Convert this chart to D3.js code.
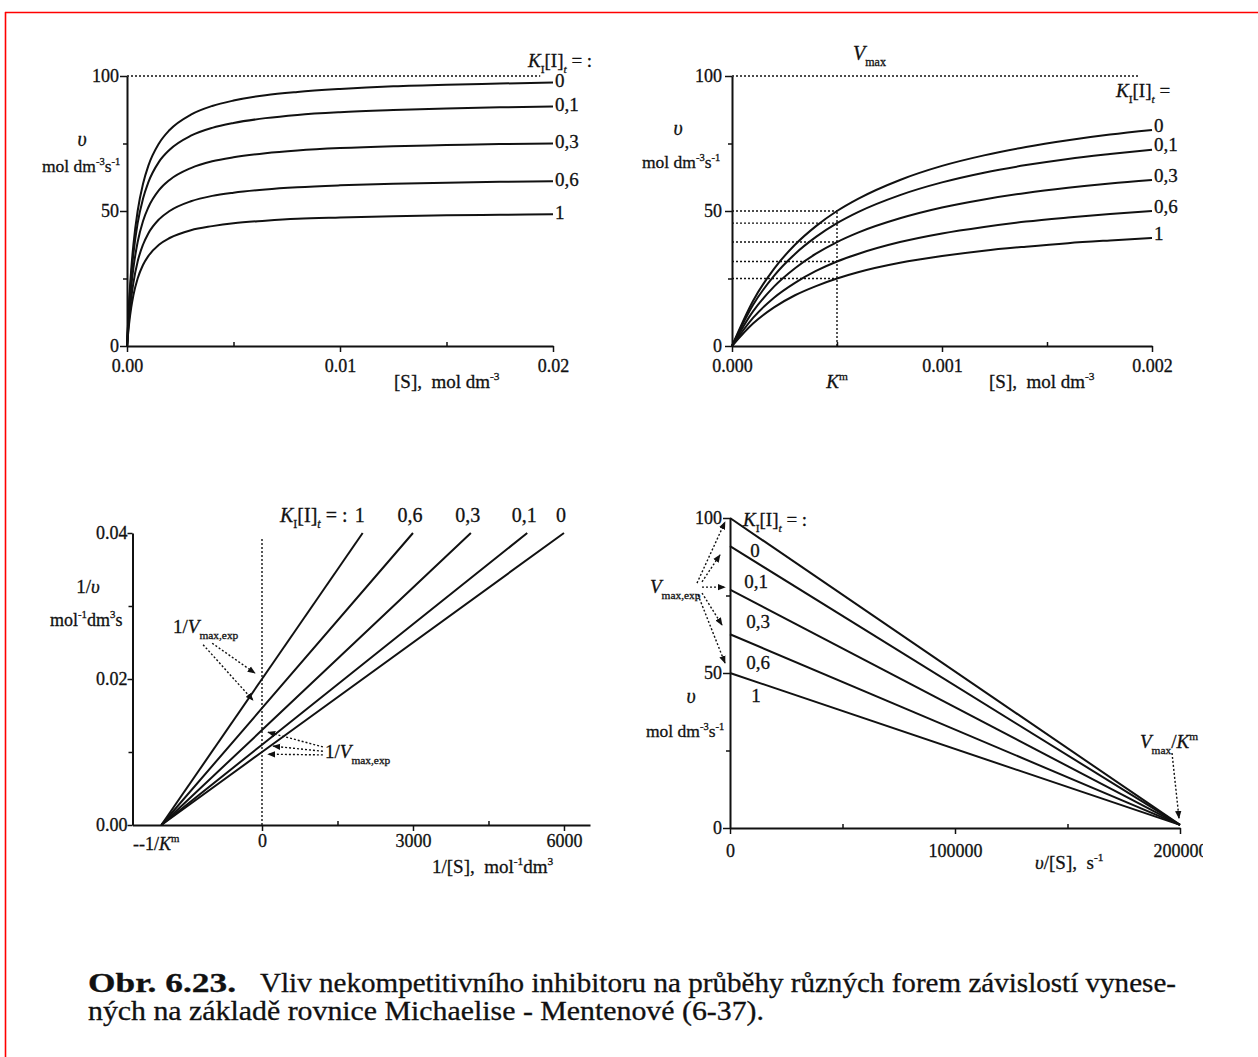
<!DOCTYPE html>
<html><head><meta charset="utf-8">
<script src="https://cdn.jsdelivr.net/npm/d3@7/dist/d3.min.js"></script>
<style>
html,body{margin:0;padding:0;background:#fff;}
svg{display:block;}
text{font-family:"Liberation Serif","Times New Roman",Times,serif;fill:#111;white-space:pre;stroke:#111;stroke-width:0.3px;}
</style></head><body>
<svg id="chart" width="1258" height="1057"></svg>
<script>
// ---------------- DATA ----------------
const inhibitorLabels = ["0", "0,1", "0,3", "0,6", "1"];

// Panel 1: v vs [S] (wide range)
const p1S    = [0, 0.0001, 0.0002, 0.0003, 0.0005, 0.00075, 0.001, 0.0015, 0.002, 0.003, 0.004, 0.005, 0.0065, 0.008, 0.01, 0.0125, 0.015, 0.0175, 0.02];
const p1V_0  = [0, 16.7, 28.6, 37.5, 50.0, 60.0, 66.7, 75.0, 80.0, 85.7, 88.9, 90.9, 92.9, 94.1, 95.2, 96.2, 96.8, 97.2, 97.6];
const p1V_01 = [0, 15.2, 26.0, 34.1, 45.5, 54.5, 60.6, 68.2, 72.7, 77.9, 80.8, 82.6, 84.4, 85.6, 86.6, 87.4, 88.0, 88.4, 88.7];
const p1V_03 = [0, 12.8, 22.0, 28.8, 38.5, 46.2, 51.3, 57.7, 61.5, 65.9, 68.4, 69.9, 71.4, 72.4, 73.3, 74.0, 74.4, 74.8, 75.0];
const p1V_06 = [0, 10.4, 17.9, 23.4, 31.3, 37.5, 41.7, 46.9, 50.0, 53.6, 55.6, 56.8, 58.0, 58.8, 59.5, 60.1, 60.5, 60.8, 61.0];
const p1V_1  = [0, 8.3, 14.3, 18.8, 25.0, 30.0, 33.3, 37.5, 40.0, 42.9, 44.4, 45.5, 46.4, 47.1, 47.6, 48.1, 48.4, 48.6, 48.8];
const p1YTicks = [0, 50, 100];
const p1YTickLabels = ["0", "50", "100"];
const p1YMinor = [25, 75];
const p1XTicks = [0, 0.01, 0.02];
const p1XTickLabels = ["0.00", "0.01", "0.02"];
const p1XMinor = [0.005, 0.015];
const p1Vmax = 100;

// Panel 2: v vs [S] (narrow range)
const p2S    = [0, 0.0001, 0.0002, 0.0003, 0.0004, 0.0005, 0.0006, 0.0008, 0.001, 0.0012, 0.0014, 0.0016, 0.0018, 0.002];
const p2V_0  = [0, 16.7, 28.6, 37.5, 44.4, 50.0, 54.5, 61.5, 66.7, 70.6, 73.7, 76.2, 78.3, 80.0];
const p2V_01 = [0, 15.2, 26.0, 34.1, 40.4, 45.5, 49.6, 55.9, 60.6, 64.2, 67.0, 69.3, 71.1, 72.7];
const p2V_03 = [0, 12.8, 22.0, 28.8, 34.2, 38.5, 42.0, 47.3, 51.3, 54.3, 56.7, 58.6, 60.2, 61.5];
const p2V_06 = [0, 10.4, 17.9, 23.4, 27.8, 31.3, 34.1, 38.5, 41.7, 44.1, 46.1, 47.6, 48.9, 50.0];
const p2V_1  = [0, 8.3, 14.3, 18.8, 22.2, 25.0, 27.3, 30.8, 33.3, 35.3, 36.8, 38.1, 39.1, 40.0];
const p2Km = 0.0005;
const p2VatKm = [50.0, 45.5, 38.5, 31.3, 25.0];
const p2XTicks = [0, 0.001, 0.002];
const p2XTickLabels = ["0.000", "0.001", "0.002"];
const p2XMinor = [0.0005, 0.0015];
const p2YTicks = [0, 50, 100];
const p2YTickLabels = ["0", "50", "100"];
const p2YMinor = [25, 75];

// Panel 3: Lineweaver-Burk 1/v vs 1/[S]
const p3Root = -2000;                       // -1/Km
const p3Intercepts = [0.010, 0.011, 0.013, 0.016, 0.020];
const p3EndInvS = [6000, 5270, 4150, 3000, 2000];
const p3EndInvV = 0.04;
const p3YTicks = [0, 0.02, 0.04];
const p3YTickLabels = ["0.00", "0.02", "0.04"];
const p3YMinor = [0.01, 0.03];
const p3XTicks = [0, 3000, 6000];
const p3XTickLabels = ["0", "3000", "6000"];
const p3XMinor = [1500, 4500];

// Panel 4: Eadie-Hofstee v vs v/[S]
const p4Intercepts = [100, 90.9, 76.9, 62.5, 50];
const p4RootX = 200000;
const p4RootY = 1;
const p4YTicks = [0, 50, 100];
const p4YTickLabels = ["0", "50", "100"];
const p4YMinor = [25, 75];
const p4XTicks = [0, 100000, 200000];
const p4XTickLabels = ["0", "100000", "200000"];
const p4XMinor = [50000, 150000];

// Caption
const captionBold = "Obr. 6.23.";
const captionLine1 = "Vliv nekompetitivního inhibitoru na průběhy různých forem závislostí vynese-";
const captionLine2 = "ných na základě rovnice Michaelise - Mentenové (6-37).";

// ---------------- DRAWING ----------------
const INK = "#111";
const FONT = '"Liberation Serif","Times New Roman",Times,serif';
const svg = d3.select("#chart");

// red frame
svg.append("line").attr("x1", 5).attr("y1", 12.5).attr("x2", 1258).attr("y2", 12.5)
  .attr("stroke", "#f00").attr("stroke-width", 1.6);
svg.append("line").attr("x1", 5.5).attr("y1", 12).attr("x2", 5.5).attr("y2", 1057)
  .attr("stroke", "#f00").attr("stroke-width", 1.6);

const defs = svg.append("defs");
defs.append("marker").attr("id", "arr").attr("viewBox", "0 0 10 10")
  .attr("refX", 9).attr("refY", 5).attr("markerWidth", 8).attr("markerHeight", 8)
  .attr("markerUnits", "userSpaceOnUse").attr("orient", "auto")
  .append("path").attr("d", "M0,1 L10,5 L0,9 Z").attr("fill", INK);
// clip for panel-4 x axis (local coords of the axis group)
defs.append("clipPath").attr("id", "clip4").append("rect")
  .attr("x", 600).attr("y", -20).attr("width", 603).attr("height", 80);

function rich(g, x, y, parts, opt = {}) {
  const size = opt.size || 18;
  const t = g.append("text").attr("x", x).attr("y", y).attr("font-size", size)
    .attr("text-anchor", opt.anchor || "start");
  let cur = 0;
  parts.forEach(p => {
    const [str, kind] = typeof p === "string" ? [p, ""] : p;
    const k = kind.split(" ");
    let off = 0, fs = size;
    if (k.includes("sub")) { off = size * 0.32; fs = size * 0.6; }
    if (k.includes("sup")) { off = -size * 0.42; fs = size * 0.6; }
    const s = t.append("tspan").attr("dy", off - cur).attr("font-size", fs).text(str);
    if (k.includes("i")) s.attr("font-style", "italic");
    cur = off;
  });
  return t;
}

function axes(g, x, y, c) {
  const yAx = g.append("g").attr("transform", `translate(${x.range()[0]},0)`)
    .call(d3.axisLeft(y).tickValues(c.yTicks).tickFormat((d, i) => c.yLabels[i])
      .tickSize(c.ySize).tickPadding(c.yPad).tickSizeOuter(0));
  const yMin = g.append("g").attr("transform", `translate(${x.range()[0]},0)`)
    .call(d3.axisLeft(y).tickValues(c.yMinor).tickFormat("").tickSize(4).tickSizeOuter(0));
  const xAx = g.append("g").attr("transform", `translate(0,${y.range()[0]})`)
    .call(d3.axisBottom(x).tickValues(c.xTicks).tickFormat((d, i) => c.xLabels[i])
      .tickSize(6).tickPadding(c.xPad).tickSizeOuter(0));
  const xMin = g.append("g").attr("transform", `translate(0,${y.range()[0]})`)
    .call(d3.axisBottom(x).tickValues(c.xMinor).tickFormat("").tickSize(-4).tickSizeOuter(0));
  [yMin, xMin].forEach(a => a.select(".domain").remove());
  [yAx, xAx, yMin, xMin].forEach(a => {
    a.attr("font-family", FONT).attr("font-size", 18);
    a.selectAll(".domain").attr("stroke", INK).attr("stroke-width", 2);
    a.selectAll(".tick line").attr("stroke", INK).attr("stroke-width", 1.5);
    a.selectAll(".tick text").attr("fill", INK);
  });
  return xAx;
}

function dotted(g, x1, y1, x2, y2, arrow) {
  const l = g.append("line").attr("x1", x1).attr("y1", y1).attr("x2", x2).attr("y2", y2)
    .attr("stroke", INK).attr("stroke-width", 1.4).attr("stroke-dasharray", "2,2");
  if (arrow) l.attr("marker-end", "url(#arr)");
  return l;
}

function curves(g, x, y, series, curveType) {
  const line = d3.line().x(d => x(d[0])).y(d => y(d[1])).curve(curveType);
  g.selectAll(null).data(series).enter().append("path")
    .attr("d", d => line(d)).attr("fill", "none").attr("stroke", INK)
    .attr("stroke-width", 2).attr("stroke-linejoin", "round");
}

const HEAD = [["K", "i"], ["I", "sub"], ["[I]", ""], ["t", "i sub"]];

// ---------- Panel 1 ----------
{
  const g = svg.append("g");
  const x = d3.scaleLinear().domain([0, 0.02]).range([127, 553]);
  const y = d3.scaleLinear().domain([0, 100]).range([346, 76]);
  dotted(g, x(0), y(p1Vmax), x(0.0194), y(p1Vmax));
  axes(g, x, y, { yTicks: p1YTicks, yLabels: p1YTickLabels, yMinor: p1YMinor, ySize: 7, yPad: 1,
    xTicks: p1XTicks, xLabels: p1XTickLabels, xMinor: p1XMinor, xPad: 7 });
  const series = [p1V_0, p1V_01, p1V_03, p1V_06, p1V_1].map(v => p1S.map((s, i) => [s, v[i]]));
  curves(g, x, y, series, d3.curveMonotoneX);
  series.forEach((s, i) => {
    const last = s[s.length - 1];
    g.append("text").attr("x", x(last[0]) + 2).attr("y", y(last[1]) - 2).attr("dy", "0.35em")
      .attr("font-size", 19).text(inhibitorLabels[i]);
  });
  rich(g, 528, 67, HEAD.concat([[" = :", ""]]), { size: 19 });
  rich(g, 82, 146, [["υ", "i"]], { size: 20, anchor: "middle" });
  rich(g, 42, 172, ["mol dm", ["-3", "sup"], ["s", ""], ["-1", "sup"]], { size: 17.5 });
  rich(g, 394, 388, ["[S],  mol dm", ["-3", "sup"]], { size: 19 });
}

// ---------- Panel 2 ----------
{
  const g = svg.append("g");
  const x = d3.scaleLinear().domain([0, 0.002]).range([732, 1152]);
  const y = d3.scaleLinear().domain([0, 100]).range([346, 76]);
  dotted(g, x(0), y(100), x(0.00194), y(100));
  p2VatKm.forEach(v => dotted(g, x(0), y(v), x(p2Km), y(v)));
  dotted(g, x(p2Km), y(0), x(p2Km), y(p2VatKm[0]));
  axes(g, x, y, { yTicks: p2YTicks, yLabels: p2YTickLabels, yMinor: p2YMinor, ySize: 7, yPad: 3,
    xTicks: p2XTicks, xLabels: p2XTickLabels, xMinor: p2XMinor, xPad: 7 });
  const series = [p2V_0, p2V_01, p2V_03, p2V_06, p2V_1].map(v => p2S.map((s, i) => [s, v[i]]));
  curves(g, x, y, series, d3.curveMonotoneX);
  series.forEach((s, i) => {
    const last = s[s.length - 1];
    g.append("text").attr("x", x(last[0]) + 2).attr("y", y(last[1]) - 5).attr("dy", "0.35em")
      .attr("font-size", 19).text(inhibitorLabels[i]);
  });
  rich(g, 853, 60, [["V", "i"], ["max", "sub"]], { size: 20 });
  rich(g, 1116, 97, HEAD.concat([[" =", ""]]), { size: 19 });
  rich(g, 678, 135, [["υ", "i"]], { size: 20, anchor: "middle" });
  rich(g, 642, 168, ["mol dm", ["-3", "sup"], ["s", ""], ["-1", "sup"]], { size: 17.5 });
  rich(g, x(p2Km), 388, [["K", "i"], ["m", "sup"]], { size: 19, anchor: "middle" });
  rich(g, 989, 388, ["[S],  mol dm", ["-3", "sup"]], { size: 19 });
}

// ---------- Panel 3 ----------
{
  const g = svg.append("g");
  const x = d3.scaleLinear().domain([-2573, 6517]).range([132.5, 590]);
  const y = d3.scaleLinear().domain([0, 0.04]).range([825, 533]);
  dotted(g, x(0), y(0), x(0), y(0.0394));
  axes(g, x, y, { yTicks: p3YTicks, yLabels: p3YTickLabels, yMinor: p3YMinor, ySize: 5, yPad: 0,
    xTicks: p3XTicks, xLabels: p3XTickLabels, xMinor: p3XMinor, xPad: 3 });
  const series = p3Intercepts.map((b, i) => [[p3Root, 0], [0, b], [p3EndInvS[i], p3EndInvV]]);
  curves(g, x, y, series, d3.curveLinear);
  rich(g, 280, 522, HEAD.concat([[" = :", ""]]), { size: 20 });
  series.forEach((s, i) => {
    g.append("text").attr("x", x(p3EndInvS[i]) - 3).attr("y", 522).attr("text-anchor", "middle")
      .attr("font-size", 20).text(inhibitorLabels[i]);
  });
  rich(g, 88, 593, ["1/", ["υ", "i"]], { size: 19, anchor: "middle" });
  rich(g, 50, 626, ["mol", ["-1", "sup"], ["dm", ""], ["3", "sup"], ["s", ""]], { size: 18 });
  rich(g, 133, 850, ["--1/", ["K", "i"], ["m", "sup"]], { size: 18 });
  rich(g, 432, 873, ["1/[S],  mol", ["-1", "sup"], ["dm", ""], ["3", "sup"]], { size: 19 });
  // annotations
  rich(g, 173, 633, ["1/", ["V", "i"], ["max,exp", "sub"]], { size: 19 });
  dotted(g, x(-990), y(0.0249), x(-140), y(0.0208), true);
  dotted(g, x(-1170), y(0.0247), x(-180), y(0.0171), true);
  rich(g, 325, 758, ["1/", ["V", "i"], ["max,exp", "sub"]], { size: 19 });
  dotted(g, x(1210), y(0.0107), x(120), y(0.0127), true);
  dotted(g, x(1210), y(0.0101), x(220), y(0.0108), true);
  dotted(g, x(1210), y(0.0096), x(120), y(0.0097), true);
}

// ---------- Panel 4 ----------
{
  const g = svg.append("g");
  const x = d3.scaleLinear().domain([0, 200000]).range([730, 1180]);
  const y = d3.scaleLinear().domain([0, 100]).range([828, 518]);
  const xAx = axes(g, x, y, { yTicks: p4YTicks, yLabels: p4YTickLabels, yMinor: p4YMinor, ySize: 7, yPad: 1,
    xTicks: p4XTicks, xLabels: p4XTickLabels, xMinor: p4XMinor, xPad: 10 });
  xAx.attr("clip-path", "url(#clip4)");
  const series = p4Intercepts.map(b => [[0, b], [p4RootX, p4RootY]]);
  curves(g, x, y, series, d3.curveLinear);
  rich(g, 743, 526, HEAD.concat([[" = :", ""]]), { size: 19 });
  const labPos = [[755, 550], [756, 581], [758, 621], [758, 662], [756, 695]];
  inhibitorLabels.forEach((t, i) => {
    g.append("text").attr("x", labPos[i][0]).attr("y", labPos[i][1]).attr("dy", "0.35em")
      .attr("text-anchor", "middle").attr("font-size", 19).text(t);
  });
  rich(g, 691, 703, [["υ", "i"]], { size: 20, anchor: "middle" });
  rich(g, 646, 737, ["mol dm", ["-3", "sup"], ["s", ""], ["-1", "sup"]], { size: 17.5 });
  rich(g, 1035, 869, [["υ", "i"], ["/[S],  s", ""], ["-1", "sup"]], { size: 19 });
  rich(g, 650, 593, [["V", "i"], ["max,exp", "sub"]], { size: 19 });
  dotted(g, x(-14667), y(79.0), x(-2222), y(98.7), true);
  dotted(g, x(-12444), y(79.4), x(-4444), y(88.1), true);
  dotted(g, x(-12444), y(77.7), x(-2222), y(77.7), true);
  dotted(g, x(-12444), y(75.8), x(-3556), y(65.5), true);
  dotted(g, x(-14222), y(75.2), x(-2222), y(53.2), true);
  rich(g, 1140, 748, [["V", "i"], ["max", "sub"], ["/", ""], ["K", "i"], ["m", "sup"]], { size: 19 });
  dotted(g, x(196444), y(24.2), x(199556), y(3.2), true);
}

// ---------- Caption ----------
{
  const g = svg.append("g");
  g.append("text").attr("x", 88).attr("y", 992).attr("font-size", 27).attr("font-weight", "bold")
    .attr("textLength", 148).attr("lengthAdjust", "spacingAndGlyphs").text(captionBold);
  g.append("text").attr("x", 260).attr("y", 992).attr("font-size", 27)
    .attr("textLength", 916).attr("lengthAdjust", "spacingAndGlyphs").text(captionLine1);
  g.append("text").attr("x", 88).attr("y", 1020).attr("font-size", 27)
    .attr("textLength", 676).attr("lengthAdjust", "spacingAndGlyphs").text(captionLine2);
}
</script>
</body></html>
